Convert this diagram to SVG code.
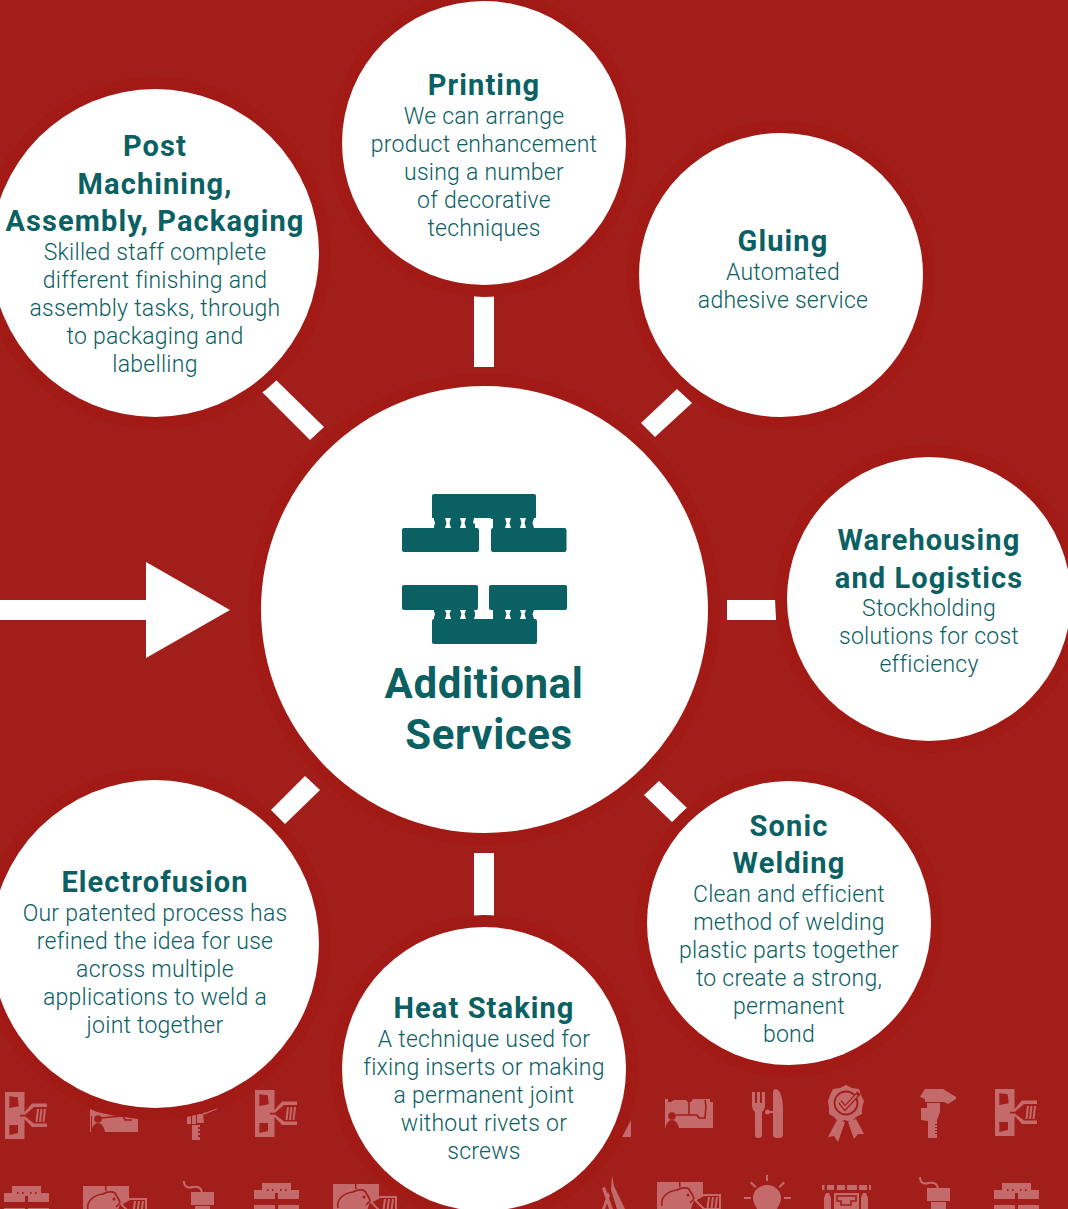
<svg xmlns="http://www.w3.org/2000/svg" width="1068" height="1209" viewBox="0 0 1068 1209">
<style>
.halo{fill:#a11a16}
.disc{fill:#fff}
.h{font:700 29px Roboto,"Liberation Sans",sans-serif;fill:#0a6063;text-anchor:middle;letter-spacing:1.1px}
.b{font:300 23px Roboto,"Liberation Sans",sans-serif;fill:#0a6063;text-anchor:middle;letter-spacing:.25px}
.big{font:700 42px Roboto,"Liberation Sans",sans-serif;fill:#0a6063;text-anchor:middle;letter-spacing:.6px}
.t{fill:#0a6063}
.ic{fill:#c46a6a}
.d{fill:#a21e1a}
.ds{fill:none;stroke:#a21e1a;stroke-width:1.6}
.is{fill:none;stroke:#c46a6a;stroke-width:2}
.bar{fill:#fff}
</style>
<defs>
<g id="mould">
<path class="ic" d="M0 0H19.5V20L27 11.500H42V35H27L19.500 27V47H0Z"/>
<path class="d" d="M4.300 4.300 12.700 5.300 13.700 14.300 4.300 16ZM4.300 33H13V41L4.300 43ZM15 22.800H20L29 15H42V16H42V31.500H29L20 24.600H15Z"/>
<path class="ic" d="M32 17H34L32.500 30H30.500ZM35.500 17H37.500L36 30H34ZM39 17H41L39.500 30H37.500Z"/>
</g>
<g id="op">
<path class="ic" d="M0 0 7 3 25 7 48 8V23H0Z"/>
<circle class="d" cx="8" cy="10" r="3.800"/>
<path class="d" d="M1.500 23C2 17 5 14 8 14S14 17 15 23ZM1 7H2V23H1Z"/>
<path class="ds" d="M10 9 33 7 35 11H42"/>
</g>
<g id="brick">
<path class="ic" d="M8 0H37V7H45V16H24V10H21V16H0V7H8Z"/>
<path class="d" d="M13 6h1.500v2h-1.500zM18 6h1.500v2h-1.500zM26 6h1.500v2h-1.500zM31 6h1.500v2h-1.500z"/>
<rect class="ic" x="0" y="22" width="21" height="8"/>
<rect class="ic" x="24" y="22" width="21" height="8"/>
</g>
<g id="pig">
<path class="ic" d="M0 0H46V14L37 18 33 30H0Z"/>
<path class="d" d="M22 0H23.500V5H22Z"/>
<path class="ds" d="M5 24C3 15 11 9 20 8 25 5 32 5 33 9 35 12 37 15 37 17L33 21"/>
<circle class="d" cx="31" cy="13" r="1.500"/>
<path class="is" d="M38 18 47 13H63V27H47Z"/>
<path class="ic" d="M51 15H53L51.500 26H49.500ZM55 15H57L55.500 26H53.500ZM59 15H61L59.500 26H57.500Z"/>
</g>
<g id="cup">
<path class="is" d="M1 0C1 7 6 7 10 6 14 5 18 6 19 11"/>
<rect class="ic" x="8" y="11" width="23" height="13"/>
<rect class="ic" x="12" y="25" width="15" height="8"/>
</g>
</defs>
<rect width="1068" height="1209" fill="#a21e1a"/>
<g id="icons">
<use href="#mould" x="5" y="1092"/>
<use href="#op" x="90" y="1109"/>
<path class="is" stroke-width="1.500" d="M203 1114 217 1108"/>
<path class="ic" d="M187 1116H191V1124H187ZM192 1115H196V1124H192ZM197 1114 203 1114 204 1123H197ZM192 1125H200V1127H198V1129H200V1131H198V1133H200V1135H198V1137H200V1140H192Z"/>
<use href="#mould" x="255" y="1090"/>
<path class="ic" d="M622 1137 631 1120V1137Z"/>
<g>
<path class="ic" d="M665 1099H668V1102H671L674 1100H686L688 1102H691L693 1099H710V1102H713V1128H665Z"/>
<circle class="d" cx="672" cy="1116" r="3.800"/>
<path class="d" d="M665.500 1128C666 1123 669 1120 672 1120S678 1123 679 1128Z"/>
<path class="ds" d="M676 1115H689V1100M689 1115H697L699 1118H705L706 1106 705 1100"/>
</g>
<path class="ic" d="M752 1092h3v11h2v-11h3v11h2v-11h3v13q0 5-3 7v23q0 3-3.500 3t-3.500-3v-23q-3-2-3-7zM773 1093q0-4 3-4c4 1 7 8 7 20v26q0 3-5 3t-5-3z"/>
<circle class="ic" cx="767.500" cy="1112" r="2.500"/>
<path class="ic" d="M766 1111h7v2h-7z"/>
<path class="ic" d="M846 1085 852 1088 859 1089 861 1095 864 1101 862 1108 862 1114 856 1117 851 1122 845 1120 839 1122 834 1117 829 1114 829 1108 828 1101 830 1095 833 1089 840 1088ZM837 1120 845 1122 838 1142 834 1136 828 1137ZM848 1122 856 1119 864 1134 858 1134 854 1139Z"/>
<circle cx="846" cy="1103" r="11.500" fill="none" stroke="#a21e1a" stroke-width="1.800"/>
<path d="M840 1102 845 1108 859 1093" fill="none" stroke="#a21e1a" stroke-width="4.500"/>
<path d="M840 1102 845 1108 857 1095" fill="none" stroke="#c46a6a" stroke-width="2"/>
<path class="ic" d="M920 1097 925 1089H943L956 1097V1099L948 1104 944 1102H925V1099ZM921 1108H927V1103H940V1112L937 1120V1138H928V1121L921 1120Z"/>
<path class="d" d="M935 1124h2v1h-2zM935 1127h2v1h-2zM935 1130h2v1h-2zM935 1133h2v1h-2z"/>
<use href="#mould" x="995" y="1089"/>
<use href="#brick" x="4" y="1186"/>
<use href="#pig" x="83" y="1186"/>
<use href="#cup" x="183" y="1181"/>
<use href="#brick" x="254" y="1183"/>
<use href="#pig" x="333" y="1184"/>
<path class="ic" d="M612 1175 614 1186 625 1209H617L611 1190ZM602 1188 605 1187 613 1209H609ZM610 1196 605 1209H602L608 1192Z"/>
<use href="#pig" x="657" y="1182"/>
<path class="ic" d="M767 1185c8 0 14 6 14 13 0 5-3 8-4 11h-20c-1-3-4-6-4-11 0-7 6-13 14-13zM766 1175h2v6h-2zM750 1183l1.500-1.500 5 5-1.500 1.500zM785 1183l-1.500-1.500-5 5 1.500 1.500zM744 1197h7v2h-7zM784 1197h7v2h-7z"/>
<path class="ic" d="M822 1185h2.500v5h-2.500zM827 1185h7v5h-7zM837 1185h8v5h-8zM847 1185h10v5h-10zM859 1185h8v5h-8zM869 1185h2v5h-2zM826 1193h3l2 5v11h-7v-11zM863 1193h3l2 5v11h-7v-11zM834 1193h25v16h-25z"/>
<path class="ds" d="M837 1201V1196H856V1201H851V1205H841V1201Z"/>
<use href="#cup" x="919" y="1177"/>
<use href="#brick" x="994" y="1183"/>
</g>
<g id="connectors">
<rect class="bar" x="474" y="296" width="20" height="71"/>
<rect class="bar" x="474" y="853" width="20" height="63"/>
<rect class="bar" x="727" y="600" width="49" height="20"/>
<path class="bar" d="M262 392 276 380 324 427 310 440Z"/>
<path class="bar" d="M641 423 655 437 692 403 677 389Z"/>
<path class="bar" d="M271 810 285 824 320 790 305 776Z"/>
<path class="bar" d="M644 795 659 781 687 808 672 822Z"/>
<path class="bar" d="M0 600H146V562L230 610 146 658V620H0Z"/>
</g>
<g id="center">
<circle class="halo" cx="484.500" cy="609.500" r="236"/><circle class="disc" cx="484.500" cy="609.500" r="223.500"/>
<rect class="t" x="432" y="494" width="104" height="25" rx="2"/>
<rect class="t" x="402" y="528" width="77" height="24" rx="2"/>
<rect class="t" x="491" y="528" width="75.500" height="24" rx="2"/>
<rect class="t" x="402" y="585" width="76" height="25" rx="2"/>
<rect class="t" x="489" y="585" width="78" height="25" rx="2"/>
<rect class="t" x="432" y="619" width="105" height="25" rx="2"/>
<path class="t" d="M434 518H475V528H434ZM493 518H534V528H493ZM434 609H475V619H434ZM493 609H534V619H493Z"/>
<path class="disc" d="M445 518h6l-1.500 5 1.500 5h-6l1.500-5zM460 518h6l-1.500 5 1.500 5h-6l1.500-5zM505 518h6l-1.500 5 1.500 5h-6l1.500-5zM520 518h6l-1.500 5 1.500 5h-6l1.500-5zM431 518h2.500l1.500 5-1.500 5h-2.500zM537 518h-3l-1.500 5 1.500 5h3zM474 518h17v10h-12v-2l-6-3zM445 610h6l-1.500 4 1.500 5h-6l1.500-5zM460 610h6l-1.500 4 1.500 5h-6l1.500-5zM505 610h6l-1.500 4 1.500 5h-6l1.500-5zM520 610h6l-1.500 4 1.500 5h-6l1.500-5zM431 610h2.500l1.500 4-1.500 5h-2.500zM537 610h-3l-1.500 4 1.500 5h3zM478 585h11v34h-15l1.500-5-1.500-4h4z"/>
<text class="big" x="484" y="698">Additional</text>
<text class="big" x="489" y="749">Services</text>
</g>
<g id="post">
<circle class="halo" cx="155" cy="253" r="176"/><circle class="disc" cx="155" cy="253" r="164"/>
<text class="h" x="155" y="156">Post</text><text class="h" x="155" y="194">Machining,</text><text class="h" x="155" y="231">Assembly, Packaging</text>
<text class="b" x="155" y="260">Skilled staff complete</text><text class="b" x="155" y="288">different finishing and</text><text class="b" x="155" y="316">assembly tasks, through</text><text class="b" x="155" y="344">to packaging and</text><text class="b" x="155" y="372">labelling</text>
</g>
<g id="printing">
<circle class="halo" cx="484" cy="143" r="154"/><circle class="disc" cx="484" cy="143" r="142"/>
<text class="h" x="484" y="95">Printing</text>
<text class="b" x="484" y="124">We can arrange</text><text class="b" x="484" y="152">product enhancement</text><text class="b" x="484" y="180">using a number</text><text class="b" x="484" y="208">of decorative</text><text class="b" x="484" y="236">techniques</text>
</g>
<g id="gluing">
<circle class="halo" cx="781" cy="275" r="154"/><circle class="disc" cx="781" cy="275" r="142"/>
<text class="h" x="783" y="251">Gluing</text>
<text class="b" x="783" y="280">Automated</text><text class="b" x="783" y="308">adhesive service</text>
</g>
<g id="warehousing">
<circle class="halo" cx="929" cy="599" r="154"/><circle class="disc" cx="929" cy="599" r="142"/>
<text class="h" x="929" y="550">Warehousing</text><text class="h" x="929" y="588">and Logistics</text>
<text class="b" x="929" y="616">Stockholding</text><text class="b" x="929" y="644">solutions for cost</text><text class="b" x="929" y="672">efficiency</text>
</g>
<g id="electrofusion">
<circle class="halo" cx="155" cy="944" r="176"/><circle class="disc" cx="155" cy="944" r="164"/>
<text class="h" x="155" y="892">Electrofusion</text>
<text class="b" x="155" y="921">Our patented process has</text><text class="b" x="155" y="949">refined the idea for use</text><text class="b" x="155" y="977">across multiple</text><text class="b" x="155" y="1005">applications to weld a</text><text class="b" x="155" y="1033">joint together</text>
</g>
<g id="sonic">
<circle class="halo" cx="789" cy="923" r="154"/><circle class="disc" cx="789" cy="923" r="142"/>
<text class="h" x="789" y="836">Sonic</text><text class="h" x="789" y="873">Welding</text>
<text class="b" x="789" y="902">Clean and efficient</text><text class="b" x="789" y="930">method of welding</text><text class="b" x="789" y="958">plastic parts together</text><text class="b" x="789" y="986">to create a strong,</text><text class="b" x="789" y="1014">permanent</text><text class="b" x="789" y="1042">bond</text>
</g>
<g id="heat">
<circle class="halo" cx="484" cy="1069" r="154"/><circle class="disc" cx="484" cy="1069" r="142"/>
<text class="h" x="484" y="1018">Heat Staking</text>
<text class="b" x="484" y="1047">A technique used for</text><text class="b" x="484" y="1075">fixing inserts or making</text><text class="b" x="484" y="1103">a permanent joint</text><text class="b" x="484" y="1131">without rivets or</text><text class="b" x="484" y="1159">screws</text>
</g>
</svg>
